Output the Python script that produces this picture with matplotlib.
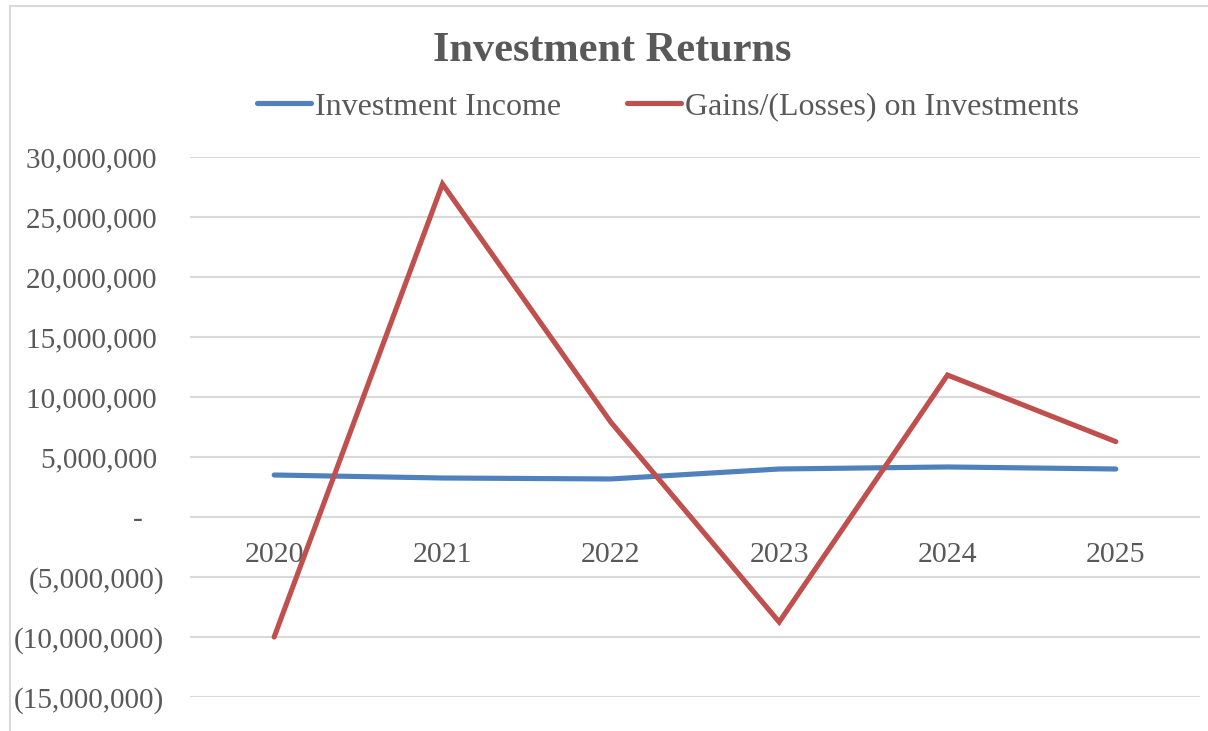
import matplotlib
matplotlib.use("Agg")
import matplotlib.pyplot as plt
from matplotlib.patches import Rectangle
from matplotlib.ticker import FuncFormatter

years = ["2020", "2021", "2022", "2023", "2024", "2025"]
investment_income = [3500000, 3250000, 3170000, 4000000, 4170000, 4000000]
gains_losses = [-10000000, 27750000, 7900000, -8750000, 11830000, 6280000]
series_names = ["Investment Income", "Gains/(Losses) on Investments"]

plt.rcParams['font.family'] = ['Liberation Serif', 'DejaVu Serif']
TXT = '#595959'
GRID = '#d9d9d9'

fig = plt.figure(figsize=(12.08, 7.31), dpi=100)
fig.patches.append(Rectangle((10 / 1208, -0.01), 1.02, (731 - 5.5) / 731 + 0.01,
                             transform=fig.transFigure, fill=False,
                             edgecolor=GRID, linewidth=1.5))

ax = fig.add_axes([190 / 1208, 34 / 731, 1010 / 1208, 540 / 731])
x = list(range(len(years)))
l1, = ax.plot(x, investment_income, color='#4F81BD', lw=3.7, solid_capstyle='round',
              solid_joinstyle='miter', label=series_names[0], zorder=3)
l2, = ax.plot(x, gains_losses, color='#C0504D', lw=3.7, solid_capstyle='round',
              solid_joinstyle='miter', label=series_names[1], zorder=3)

ax.set_xlim(-0.5, len(years) - 0.5)
ax.set_ylim(-15000000, 30000000)
ax.set_yticks(range(-15000000, 30000001, 5000000))


def fmt(v, pos):
    if v == 0:
        return '-   '
    if v < 0:
        return f"({abs(int(v)):,})"
    return f"{int(v):,} "


ax.yaxis.set_major_formatter(FuncFormatter(fmt))
ax.grid(axis='y', color=GRID, lw=1.5)
ax.set_axisbelow(True)
for s in ['top', 'right', 'left']:
    ax.spines[s].set_visible(False)
ax.spines['bottom'].set_position(('data', 0))
ax.spines['bottom'].set_visible(False)
ax.set_xticks(x)
ax.set_xticklabels(years)
ax.tick_params(axis='x', length=0, pad=18, labelsize=21.5, labelcolor=TXT)
ax.tick_params(axis='y', length=0, pad=18.7, labelsize=21, labelcolor=TXT)

fig.text(612 / 1208, 1 - 51 / 731, "Investment Returns", ha='center', va='center',
         fontsize=30.5, fontweight='bold', color=TXT)

leg = fig.legend(handles=[l1, l2], loc='center', bbox_to_anchor=(668 / 1208, 1 - 107 / 731),
                 ncol=2, frameon=False, fontsize=23, handlelength=1.7, handletextpad=0.12,
                 columnspacing=2.05, labelcolor=TXT, borderpad=0, borderaxespad=0)

fig.savefig("out.png", dpi=100)
